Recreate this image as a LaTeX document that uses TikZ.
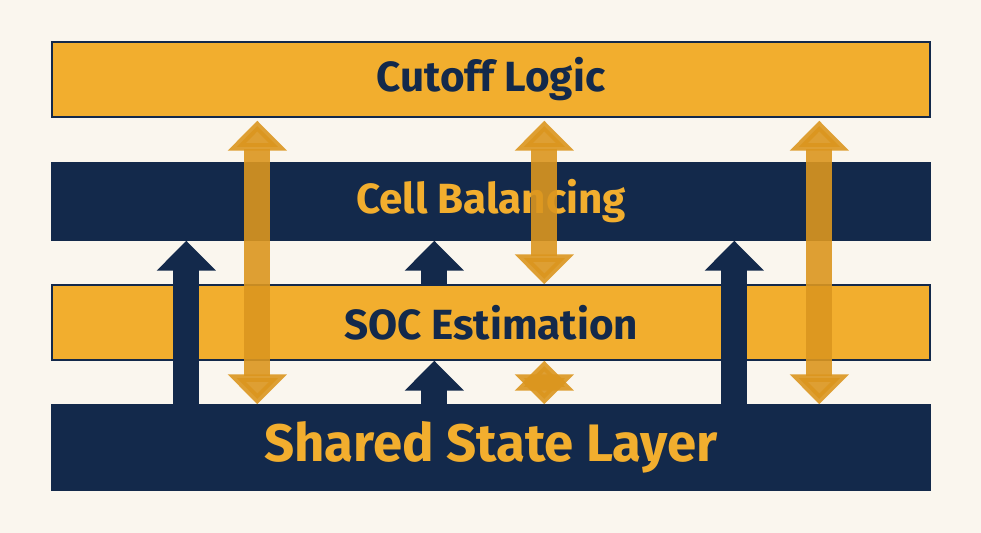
\documentclass[tikz,border=0pt]{standalone}
\usepackage{fontspec}
\setmainfont{Fira Sans}
\usetikzlibrary{arrows.meta}
\definecolor{cream}{HTML}{FAF6EE}
\definecolor{gold}{HTML}{F2AE2E}
\definecolor{darkgold}{HTML}{DB961F}
\definecolor{navy}{HTML}{13294B}
\begin{document}
\begin{tikzpicture}[bar/.style = {draw=navy, line width=0.8pt, minimum width=17.56cm, font=\bfseries\fontsize{24}{28}\selectfont},
    up/.style = {navy, line width=0.52cm, -{Triangle[length=0.6cm, width=1.15cm]}},
    both/.style = {darkgold, opacity=0.9, line width=0.52cm, {Triangle[length=0.6cm, width=1.15cm]}-{Triangle[length=0.6cm, width=1.15cm]}}]

            \fill[cream] (0,0) rectangle (19.62,10.66);

            % Bars
            \node[bar, fill=gold, text=navy, minimum height=1.5cm] (cut) at (9.82,9.07) {Cutoff Logic};
            \node[bar, fill=navy, text=gold, minimum height=1.54cm] (cell) at (9.82,6.63) {Cell Balancing};
            \node[bar, fill=gold, text=navy, minimum height=1.5cm] (soc) at (9.82,4.21) {SOC Estimation};
            \node[bar, fill=navy, text=gold, minimum height=1.7cm, font=\bfseries\fontsize{30}{34}\selectfont] (state) at (9.82,1.71) {Shared State Layer};

            % Up arrows
            \draw[up] ([xshift=2.7cm]state.north west) -- ([xshift=2.7cm]cell.south west);
            \draw[up] ([xshift=7.66cm]state.north west) -- ([xshift=7.66cm]soc.south west);
            \draw[up] ([xshift=7.66cm]soc.north west) -- ([xshift=7.66cm]cell.south west);
            \draw[up] ([xshift=13.66cm]state.north west) -- ([xshift=13.66cm]cell.south west);

            % Two-way arrows
            \draw[both] ([xshift=4.12cm,yshift=-0.06cm]cut.south west) -- ([xshift=4.12cm]state.north west);
            \draw[both] ([xshift=9.86cm,yshift=-0.06cm]cut.south west) -- ([xshift=9.86cm]soc.north west);
            \draw[both] ([xshift=9.86cm]soc.south west) -- ([xshift=9.86cm]state.north west);
            \draw[both] ([xshift=15.36cm,yshift=-0.06cm]cut.south west) -- ([xshift=15.36cm]state.north west);
        \end{tikzpicture}
\end{document}
